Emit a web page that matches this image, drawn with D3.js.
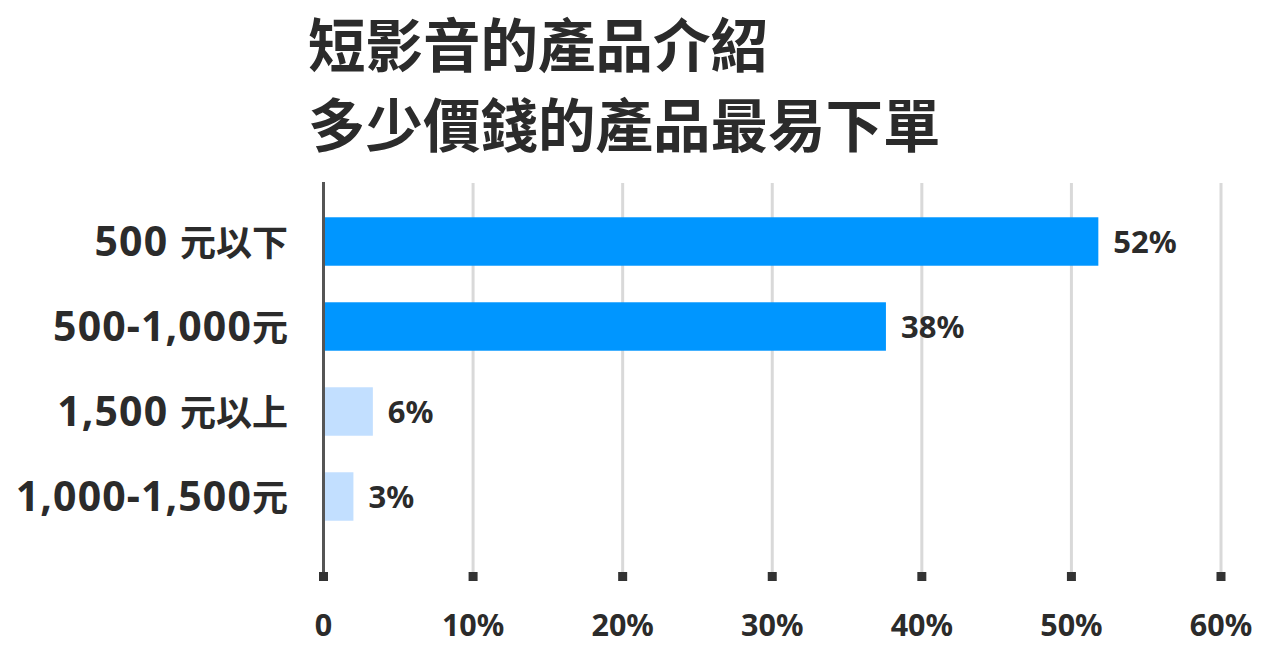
<!DOCTYPE html>
<html>
<head>
<meta charset="utf-8">
<script src="https://cdn.jsdelivr.net/npm/d3@7"></script>
<style>
  html, body { margin: 0; padding: 0; background: #fff; }
  text { font-family: "Noto Sans", "Noto Sans CJK TC", sans-serif; font-weight: 700; fill: #2b2b2b; }
</style>
</head>
<body>
<svg id="chart" width="1280" height="662"></svg>
<script>
// data
const titleLines = ["短影音的產品介紹", "多少價錢的產品最易下單"]
const categories = ["500 元以下", "500-1,000元", "1,500 元以上", "1,000-1,500元"]
const values = [51.8, 37.6, 3.3, 2.0]          // bar lengths as drawn
const valueLabels = ["52%", "38%", "6%", "3%"]  // labels as printed
const highlight = [true, true, false, false]
const xTicks = [0, 10, 20, 30, 40, 50, 60]
const xTickLabels = ["0", "10%", "20%", "30%", "40%", "50%", "60%"]

const svg = d3.select("#chart")

const x = d3.scaleLinear().domain([0, 60]).range([323.5, 1221])
const y = d3.scaleBand().domain(categories).range([199, 539]).paddingInner(0.43).paddingOuter(0.215)

//title
svg.selectAll(".title").data(titleLines).enter().append("text")
    .attr("class", "title")
    .attr("x", 308)
    .attr("y", (d, i) => 46 + i * 80)
    .attr("dy", "0.36em")
    .attr("font-size", 57.5)
    .style("font-family", "'Noto Sans CJK TC', sans-serif")
    .text(d => d)

//grid lines
svg.selectAll(".grid").data(xTicks.slice(1)).enter().append("line")
    .attr("class", "grid")
    .attr("x1", d => x(d)).attr("x2", d => x(d))
    .attr("y1", 183).attr("y2", 574)
    .attr("stroke", "#d9d9d9").attr("stroke-width", 3)

//bars
svg.selectAll(".bar").data(values).enter().append("rect")
    .attr("class", "bar")
    .attr("x", x(0))
    .attr("y", (d, i) => y(categories[i]))
    .attr("width", d => x(d) - x(0))
    .attr("height", y.bandwidth())
    .attr("fill", (d, i) => highlight[i] ? "#0096ff" : "#c2dfff")

//zero axis line
svg.append("line")
    .attr("x1", x(0)).attr("x2", x(0))
    .attr("y1", 182).attr("y2", 576)
    .attr("stroke", "#555").attr("stroke-width", 3)

//tick squares
svg.selectAll(".tick-mark").data(xTicks).enter().append("rect")
    .attr("class", "tick-mark")
    .attr("x", d => x(d) - 4.5).attr("y", 572)
    .attr("width", 9).attr("height", 9)
    .attr("fill", "#333")

//tick labels
svg.selectAll(".tick-label").data(xTicks).enter().append("text")
    .attr("class", "tick-label")
    .attr("x", d => x(d))
    .attr("y", 625)
    .attr("dy", "0.36em")
    .attr("text-anchor", "middle")
    .attr("font-size", 30.5)
    .text((d, i) => xTickLabels[i])

//category labels: latin part a bit larger/looser than the CJK part, like the original
const cat = svg.selectAll(".cat").data(categories).enter().append("text")
    .attr("class", "cat")
    .attr("x", 288)
    .attr("y", d => y(d) + y.bandwidth() / 2)
    .attr("dy", "0.36em")
    .attr("text-anchor", "end")
    .attr("font-size", 41)

cat.each(function(d){
    const t = d3.select(this)
    const parts = d.match(/[\u4e00-\u9fff]+|[^\u4e00-\u9fff]+/g)
    parts.forEach(p => {
        const span = t.append("tspan").text(p)
        if (/[\u4e00-\u9fff]/.test(p)) span.attr("font-size", 36)
        else span.style("letter-spacing", "1.1px")
    })
})

//value labels
svg.selectAll(".val").data(values).enter().append("text")
    .attr("class", "val")
    .attr("x", d => x(d) + 15)
    .attr("y", (d, i) => y(categories[i]) + y.bandwidth() / 2)
    .attr("dy", "0.36em")
    .attr("font-size", 31)
    .text((d, i) => valueLabels[i])
</script>
</body>
</html>
